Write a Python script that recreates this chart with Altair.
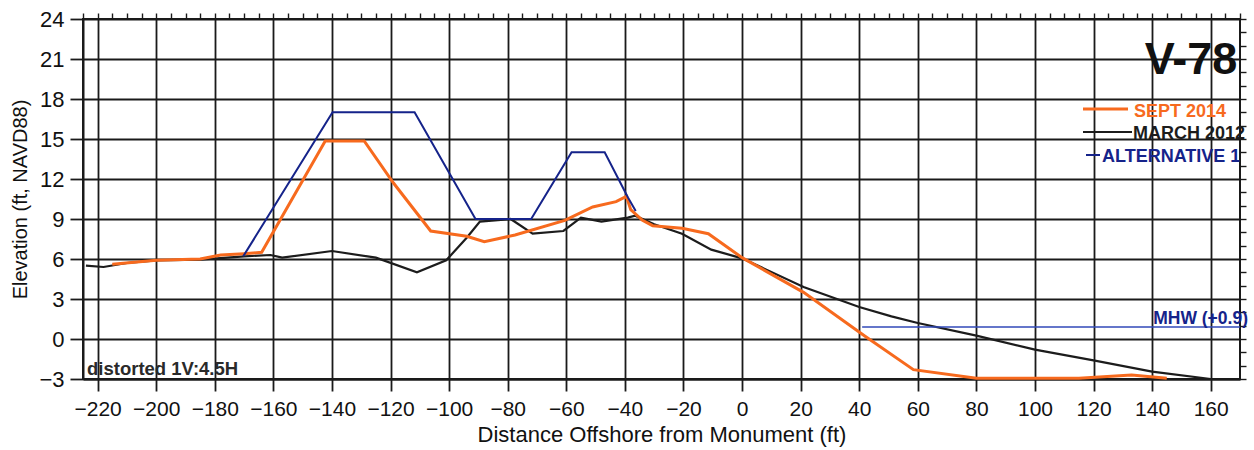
import altair as alt
import pandas as pd

# ---------------- data ----------------
march_x = [-224, -218, -210, -200, -185, -170, -161, -157, -140, -125, -111, -101, -94, -89.5,
           -79, -71.5, -61, -55, -48, -39, -36.5, -30, -20.5, -10.5, 0, 21, 40, 51, 60, 80,
           100, 120, 140, 160]
march_y = [5.5, 5.4, 5.7, 5.9, 5.95, 6.2, 6.3, 6.1, 6.6, 6.1, 5.0, 5.9, 7.6, 8.8,
           9.0, 7.9, 8.1, 9.1, 8.8, 9.1, 9.25, 8.6, 7.9, 6.7, 6.05, 3.9, 2.4, 1.7, 1.2, 0.25,
           -0.8, -1.6, -2.45, -3.0]

sept_x = [-215, -200, -185, -178, -170, -164, -142.3, -129, -119, -106.3, -94, -88, -77.5,
          -60.5, -51, -43, -39.5, -38, -34, -30.5, -20.5, -11.5, 0, 21, 42, 58.5, 80, 115,
          133, 145]
sept_y = [5.6, 5.9, 6.0, 6.3, 6.4, 6.5, 14.85, 14.85, 11.7, 8.1, 7.7, 7.3, 7.8,
          8.9, 9.9, 10.3, 10.7, 9.7, 8.9, 8.5, 8.3, 7.9, 6.1, 3.5, 0.2, -2.3, -2.95, -2.95,
          -2.7, -2.95]

alt1_x = [-170.3, -139.8, -111.8, -91, -72, -58.2, -46.9, -38.9, -36.3]
alt1_y = [6.2, 17.0, 17.0, 9.0, 9.0, 14.0, 14.0, 10.6, 9.6]

mhw_x = [41, 170]
mhw_y = [0.9, 0.9]

x_major = list(range(-220, 161, 20))
x_minor = list(range(-225, 171, 5))
y_major = list(range(-3, 25, 3))
y_minor = list(range(-3, 25, 1))

XDOM = [-225, 170]
YDOM = [-3, 24]

ORANGE = "#F76A1E"
BLACK = "#1c1c1c"
NAVY = "#15238a"
MHWBLUE = "#3148b8"
GRID = "#1a1a1a"
FONT = "Liberation Sans"


def frame(x, y):
    return pd.DataFrame({"x": x, "y": y})


xs = alt.Scale(domain=XDOM, nice=False, zero=False)
ys = alt.Scale(domain=YDOM, nice=False, zero=False)

x_main_axis = alt.Axis(values=x_major, grid=True, gridColor=GRID, gridWidth=1.8, gridOpacity=1,
                       tickColor=GRID, tickWidth=1.8, tickSize=12, domainColor=GRID, domainWidth=2,
                       labelFont=FONT, labelFontSize=21, labelColor="#111", labelPadding=7,
                       labelFlush=False, format="d",
                       title="Distance Offshore from Monument (ft)", titleFont=FONT,
                       titleFontSize=22, titleFontWeight="normal", titleColor="#111",
                       titlePadding=5)
y_main_axis = alt.Axis(values=y_major, grid=True, gridColor=GRID, gridWidth=1.8, gridOpacity=1,
                       tickColor=GRID, tickWidth=1.8, tickSize=13, domainColor=GRID, domainWidth=2,
                       labelFont=FONT, labelFontSize=22, labelColor="#111", labelPadding=6,
                       labelFlush=False, format="d",
                       title="Elevation (ft, NAVD88)", titleFont=FONT, titleFontSize=20,
                       titleFontWeight="normal", titleColor="#111", titlePadding=8)

x_minor_axis = alt.Axis(values=x_minor, grid=False, labels=False, domain=False, ticks=True,
                        tickSize=6, tickColor=GRID, tickWidth=1.4, title="")
y_minor_axis = alt.Axis(values=y_minor, grid=False, labels=False, domain=False, ticks=True,
                        tickSize=6, tickColor=GRID, tickWidth=1.4, title="")

march = alt.Chart(frame(march_x, march_y)).mark_line(color=BLACK, strokeWidth=2.2).encode(
    x=alt.X("x:Q", scale=xs, axis=x_main_axis),
    y=alt.Y("y:Q", scale=ys, axis=y_main_axis),
    order="x:Q",
)

minor = alt.Chart(frame(march_x, march_y)).mark_point(opacity=0).encode(
    x=alt.X("x:Q", scale=xs, axis=x_minor_axis),
    y=alt.Y("y:Q", scale=ys, axis=y_minor_axis),
)

sept = alt.Chart(frame(sept_x, sept_y)).mark_line(color=ORANGE, strokeWidth=3).encode(
    x=alt.X("x:Q", scale=xs, axis=None),
    y=alt.Y("y:Q", scale=ys, axis=None),
    order="x:Q",
)

alt1 = alt.Chart(frame(alt1_x, alt1_y)).mark_line(color=NAVY, strokeWidth=2).encode(
    x=alt.X("x:Q", scale=xs, axis=None),
    y=alt.Y("y:Q", scale=ys, axis=None),
    order="x:Q",
)

mhw = alt.Chart(frame(mhw_x, mhw_y)).mark_line(color=MHWBLUE, strokeWidth=1.5).encode(
    x=alt.X("x:Q", scale=xs, axis=None),
    y=alt.Y("y:Q", scale=ys, axis=None),
)

# ---------------- annotations (pixel positions inside the view) ----------------
PADL, PADT = 83, 19


def label(text, px, py, size, color, align="left", weight="bold"):
    return alt.Chart(pd.DataFrame({"t": [text]})).mark_text(
        font=FONT, fontSize=size, fontWeight=weight, color=color, align=align,
        baseline="alphabetic"
    ).encode(x=alt.value(px - PADL), y=alt.value(py - PADT), text="t:N")


def sample(px1, px2, py, color, width):
    return alt.Chart(pd.DataFrame({"a": [0]})).mark_rule(color=color, strokeWidth=width).encode(
        x=alt.value(px1 - PADL), x2=alt.value(px2 - PADL), y=alt.value(py - PADT)
    )


texts = [
    label("V-78", 1191, 74, 45, "#111", align="center"),
    sample(1083, 1128, 109, ORANGE, 3),
    label("SEPT 2014", 1134, 117, 18, ORANGE),
    sample(1083, 1132, 132, BLACK, 2),
    label("MARCH 2012", 1133, 139, 18, BLACK),
    sample(1086, 1100, 155, NAVY, 2),
    label("ALTERNATIVE 1", 1102, 162, 18, NAVY),
    label("MHW (+0.9)", 1248, 324, 17.5, NAVY, align="right"),
    label("distorted 1V:4.5H", 87, 375, 18.5, "#2a2a2a"),
]

chart = alt.layer(march, minor, sept, alt1, mhw, *texts).resolve_axis(
    x="independent", y="independent"
).properties(
    width=1157,
    height=360,
    autosize=alt.AutoSizeParams(type="none"),
    padding={"left": PADL, "top": PADT, "right": 14, "bottom": 71},
    background="white",
).configure_view(stroke=GRID, strokeWidth=2)

chart.save("out.html", embed_options={"renderer": "svg", "actions": False})
